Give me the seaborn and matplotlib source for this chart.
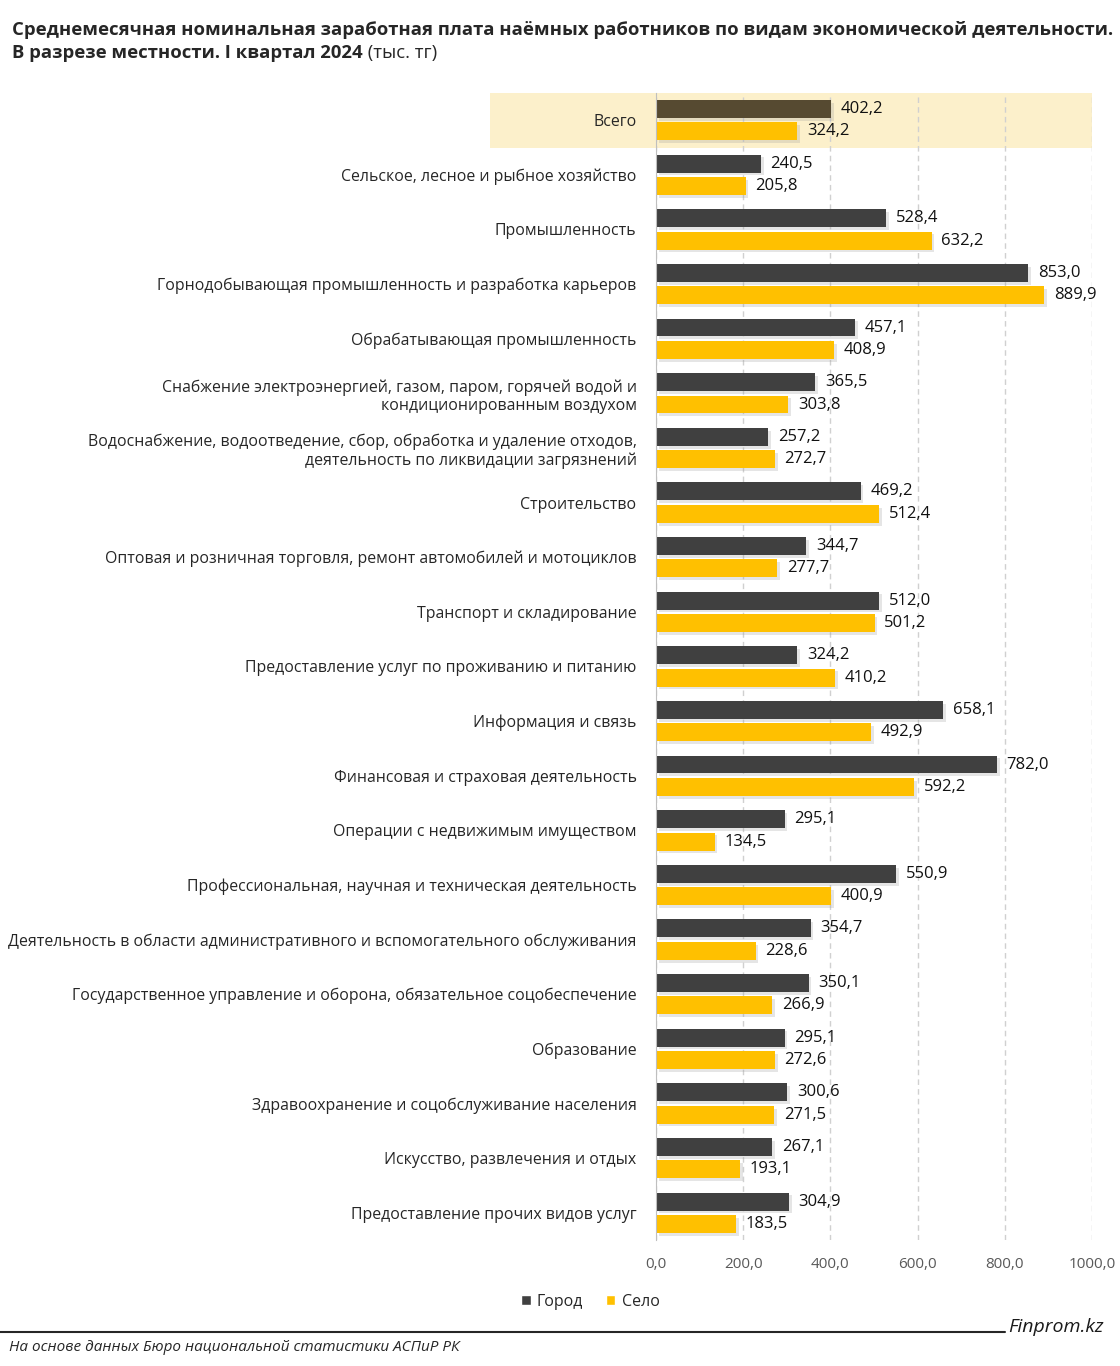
"""Average monthly wages by activity, city vs village, Q1 2024."""

import matplotlib.pyplot as plt
import matplotlib.patheffects as pe
import matplotlib.transforms as mtransforms
from matplotlib.lines import Line2D
from matplotlib.patches import Rectangle
import pandas as pd
import seaborn as sns

categories = [
    "Всего",
    "Сельское, лесное и рыбное хозяйство",
    "Промышленность",
    "Горнодобывающая промышленность и разработка карьеров",
    "Обрабатывающая промышленность",
    "Снабжение электроэнергией, газом, паром, горячей водой и\nкондиционированным воздухом",
    "Водоснабжение, водоотведение, сбор, обработка и удаление отходов,\nдеятельность по ликвидации загрязнений",
    "Строительство",
    "Оптовая и розничная торговля, ремонт автомобилей и мотоциклов",
    "Транспорт и складирование",
    "Предоставление услуг по проживанию и питанию",
    "Информация и связь",
    "Финансовая и страховая деятельность",
    "Операции с недвижимым имуществом",
    "Профессиональная, научная и техническая деятельность",
    "Деятельность в области административного и вспомогательного обслуживания",
    "Государственное управление и оборона, обязательное соцобеспечение",
    "Образование",
    "Здравоохранение и соцобслуживание населения",
    "Искусство, развлечения и отдых",
    "Предоставление прочих видов услуг",
]
city = [402.2, 240.5, 528.4, 853.0, 457.1, 365.5, 257.2, 469.2, 344.7, 512.0, 324.2,
        658.1, 782.0, 295.1, 550.9, 354.7, 350.1, 295.1, 300.6, 267.1, 304.9]
village = [324.2, 205.8, 632.2, 889.9, 408.9, 303.8, 272.7, 512.4, 277.7, 501.2, 410.2,
           492.9, 592.2, 134.5, 400.9, 228.6, 266.9, 272.6, 271.5, 193.1, 183.5]
series = ["Город", "Село"]
x_ticks = [0, 200, 400, 600, 800, 1000]

DARK = "#404040"
GOLD = "#FFC000"
TOTAL_DARK = "#564a31"


def fmt(v):
    return f"{v:.1f}".replace(".", ",")


df = pd.DataFrame({
    "category": categories * 2,
    "value": city + village,
    "area": [series[0]] * len(categories) + [series[1]] * len(categories),
})

sns.set_style("white")
plt.rcParams["font.family"] = ["Open Sans", "DejaVu Sans"]

fig = plt.figure(figsize=(11.2, 13.66), dpi=100)
ax = fig.add_axes([0.5857, 0.0922, 0.3893, 0.8398])

sns.barplot(
    data=df, y="category", x="value", hue="area", orient="h",
    palette=[DARK, GOLD], width=0.82, gap=0.2, ax=ax, saturation=1,
)

shadow = [pe.SimplePatchShadow(offset=(2, -2), shadow_rgbFace="#999999", alpha=0.25), pe.Normal()]
for cont in ax.containers:
    for bar in cont:
        bar.set_path_effects(shadow)
        bar.set_edgecolor("none")
ax.containers[0][0].set_facecolor(TOTAL_DARK)

for cont, vals in zip(ax.containers, [city, village]):
    ax.bar_label(cont, labels=[fmt(v) for v in vals], padding=7, fontsize=12, color="#111111")

# highlight for the total row
trans = mtransforms.blended_transform_factory(ax.transAxes, ax.transData)
ax.add_patch(Rectangle((-0.381, -0.5), 1.381, 1.0, transform=trans, clip_on=False,
                       facecolor="#FCF0CB", edgecolor="none", zorder=0))

ax.set_xlim(0, 1000)
ax.set_xticks(x_ticks)
ax.set_xticklabels([fmt(t) for t in x_ticks], color="#595959", fontsize=11)
ax.xaxis.grid(True, linestyle=(0, (4, 3)), color="#d0d0d0", linewidth=1)
ax.set_axisbelow(True)
ax.tick_params(axis="both", length=0)
ax.tick_params(axis="x", pad=12)
ax.tick_params(axis="y", pad=14, labelsize=11.4, labelcolor="#262626")
ax.set_xlabel("")
ax.set_ylabel("")
for side in ["top", "right", "bottom"]:
    ax.spines[side].set_visible(False)
ax.spines["left"].set_color("#bfbfbf")
ax.patch.set_alpha(0)

sns.move_legend(ax, "center", bbox_to_anchor=(0.527, 0.047), bbox_transform=fig.transFigure,
                ncol=2, title=None, frameon=False, fontsize=11.5, handlelength=0.6,
                handleheight=0.6, handletextpad=0.4, columnspacing=1.4)
for h in ax.get_legend().legend_handles:
    h.set_path_effects([])

# title
fig.text(0.011, 0.978, "Среднемесячная номинальная заработная плата наёмных работников по видам "
         "экономической деятельности.", fontsize=13.3, fontweight="bold", va="center")
t2 = fig.text(0.011, 0.961, "В разрезе местности. I квартал 2024", fontsize=13.3,
              fontweight="bold", va="center")
fig.canvas.draw()
bb = t2.get_window_extent()
fig.text(bb.x1 / fig.bbox.width, 0.961, " (тыс. тг)", fontsize=13.3, va="center")

# footer
fig.add_artist(Line2D([0, 0.897], [0.0249, 0.0249], color="#262626", linewidth=1.5))
fig.text(0.9, 0.0285, "Finprom.kz", fontsize=14, style="italic", va="center", color="#1a1a1a")
fig.text(0.008, 0.0135, "На основе данных Бюро национальной статистики АСПиР РК",
         fontsize=11, style="italic", va="center", color="#262626")

fig.savefig("out.png", dpi=100)
